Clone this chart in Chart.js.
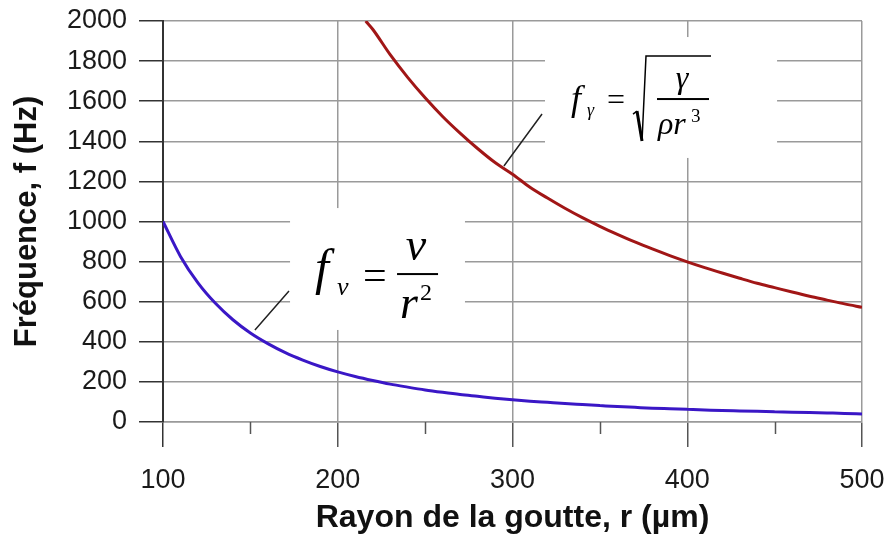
<!DOCTYPE html>
<html>
<head>
<meta charset="utf-8">
<script src="https://cdn.jsdelivr.net/npm/chart.js@4/dist/chart.umd.min.js"></script>
<style>
  html, body { margin: 0; padding: 0; background: #ffffff; }
  #wrap { width: 891px; height: 545px; }
</style>
</head>
<body>
<div id="wrap"><canvas id="c" width="891" height="545"></canvas></div>
<script>
// ---- Data ----
const radiusBlue = [100,110,120,130,140,150,160,170,180,190,200,210,220,230,240,250,260,270,280,290,300,310,320,330,340,350,360,370,380,390,400,410,420,430,440,450,460,470,480,490,500];
const freqBlue   = [1000,826,694,592,510,444,391,346,309,277,250,227,207,189,174,160,148,137,128,119,111,104,98,92,87,82,77,73,69,66,63,60,57,55,53,51,49,47,45,43,40];

const radiusRed = [216,220,230,240,250,260,270,280,290,300,310,320,330,340,350,360,370,380,390,400,410,420,430,440,450,460,470,480,490,500];
const freqRed   = [2000,1959,1832,1719,1617,1524,1441,1364,1294,1236,1171,1117,1066,1019,976,936,898,863,830,799,770,743,717,692,670,648,627,608,589,572];

const xTickValues = [100,200,300,400,500];
const yTickValues = [0,200,400,600,800,1000,1200,1400,1600,1800,2000];

const xTitle = 'Rayon de la goutte, r (µm)';
const yTitle = 'Fréquence, f (Hz)';

const toPoints = (xs, ys) => xs.map((x, i) => ({ x: x, y: ys[i] }));

// Annotation plugin: white equation boxes, leader lines, minor x ticks
const annot = {
  id: 'annot',
  afterDraw(chart) {
    const ctx = chart.ctx;
    const sx = chart.scales.x, sy = chart.scales.y;
    const px = v => sx.getPixelForValue(v);
    const py = v => sy.getPixelForValue(v);
    ctx.save();

    // minor ticks on x axis
    ctx.strokeStyle = '#555';
    ctx.lineWidth = 1.5;
    [150,250,350,450].forEach(v => {
      const x = Math.round(px(v)) + 0.5;
      ctx.beginPath();
      ctx.moveTo(x, sy.bottom);
      ctx.lineTo(x, sy.bottom + 12);
      ctx.stroke();
    });

    // leader lines
    ctx.strokeStyle = '#222';
    ctx.lineWidth = 1.5;
    ctx.beginPath();
    ctx.moveTo(px(152.6), py(459)); ctx.lineTo(px(172.1), py(653));
    ctx.moveTo(px(295.1), py(1277)); ctx.lineTo(px(316.9), py(1536));
    ctx.stroke();

    // Box 1: f_nu = nu / r^2
    let L = px(172.7), T = py(1067), R = px(272.8), B = py(459);
    ctx.fillStyle = '#ffffff';
    ctx.fillRect(L, T, R - L, B - T);
    ctx.fillStyle = '#000';
    ctx.textBaseline = 'alphabetic';
    ctx.textAlign = 'left';
    ctx.font = 'italic 50px "Liberation Serif"';
    ctx.fillText('f', L + 25, T + 76);
    ctx.font = 'italic 26px "Liberation Serif"';
    ctx.fillText('ν', L + 47, T + 87);
    ctx.font = '42px "Liberation Serif"';
    ctx.fillText('=', L + 73, T + 81);
    ctx.textAlign = 'center';
    ctx.font = 'italic 46px "Liberation Serif"';
    ctx.fillText('ν', L + 126, T + 52);
    ctx.fillRect(L + 107, T + 65, 41, 2);
    ctx.textAlign = 'left';
    ctx.fillText('r', L + 110, T + 110);
    ctx.font = '24px "Liberation Serif"';
    ctx.fillText('2', L + 130, T + 92);

    // Box 2: f_gamma = sqrt(gamma / (rho r^3))
    L = px(318.6); T = py(1920); R = px(451.4); B = py(1317);
    ctx.fillStyle = '#ffffff';
    ctx.fillRect(L, T, R - L, B - T);
    ctx.fillStyle = '#000';
    ctx.textAlign = 'left';
    ctx.font = 'italic 36px "Liberation Serif"';
    ctx.fillText('f', L + 26, T + 73);
    ctx.font = 'italic 18px "Liberation Serif"';
    ctx.fillText('γ', L + 42, T + 79);
    ctx.font = '32px "Liberation Serif"';
    ctx.fillText('=', L + 62, T + 73);
    // radical
    ctx.strokeStyle = '#000';
    ctx.lineWidth = 1.5;
    ctx.beginPath();
    ctx.moveTo(L + 88, T + 77);
    ctx.lineTo(L + 92, T + 74);
    ctx.stroke();
    ctx.lineWidth = 3;
    ctx.beginPath();
    ctx.moveTo(L + 92, T + 74);
    ctx.lineTo(L + 97, T + 104);
    ctx.stroke();
    ctx.lineWidth = 1.5;
    ctx.beginPath();
    ctx.moveTo(L + 97, T + 104);
    ctx.lineTo(L + 101, T + 19);
    ctx.lineTo(L + 166, T + 19);
    ctx.stroke();
    ctx.textAlign = 'center';
    ctx.font = 'italic 32px "Liberation Serif"';
    ctx.fillText('γ', L + 137, T + 51);
    ctx.fillRect(L + 112, T + 61, 52, 2);
    ctx.textAlign = 'left';
    ctx.fillText('ρr', L + 113, T + 97);
    ctx.font = '19px "Liberation Serif"';
    ctx.fillText('3', L + 146, T + 85);

    ctx.restore();
  }
};

new Chart(document.getElementById('c'), {
  type: 'line',
  data: {
    datasets: [
      {
        label: 'f_nu',
        data: toPoints(radiusBlue, freqBlue),
        borderColor: '#3a17c6',
        borderWidth: 3,
        pointRadius: 0,
        fill: false,
        cubicInterpolationMode: 'monotone'
      },
      {
        label: 'f_gamma',
        data: toPoints(radiusRed, freqRed),
        borderColor: '#a11616',
        borderWidth: 3,
        pointRadius: 0,
        fill: false,
        cubicInterpolationMode: 'monotone'
      }
    ]
  },
  options: {
    responsive: false,
    animation: false,
    devicePixelRatio: 1,
    layout: { padding: { top: 21, right: 29, left: 0, bottom: 0 } },
    plugins: { legend: { display: false }, tooltip: { enabled: false } },
    scales: {
      x: {
        type: 'linear',
        min: 100, max: 500,
        afterFit(scale) {
          scale.height = 123;
          scale.paddingLeft = 0; scale.paddingRight = 0;
          scale.paddingTop = 0; scale.paddingBottom = 0;
        },
        afterBuildTicks(scale) {
          scale.ticks = [100,150,200,250,300,350,400,450,500].map(v => ({ value: v }));
        },
        ticks: {
          callback: v => (xTickValues.includes(v) ? String(v) : ''),
          font: { family: '"Liberation Sans", Arial, sans-serif', size: 27 },
          color: '#1a1a1a',
          padding: 17,
          maxRotation: 0,
          autoSkip: false
        },
        grid: {
          color: ctx => (ctx.tick && ctx.tick.value % 100 === 0 ? '#9a9a9a' : 'rgba(0,0,0,0)'),
          lineWidth: 1.5,
          tickLength: 25,
          tickColor: ctx => (ctx.tick && ctx.tick.value % 100 === 0 ? (ctx.tick.value === 100 ? '#333' : '#555') : 'rgba(0,0,0,0)'),
          tickWidth: 1.5
        },
        border: { display: true, color: '#9a9a9a', width: 1.5 },
        title: {
          display: true,
          text: xTitle,
          font: { family: '"Liberation Sans", Arial, sans-serif', size: 32, weight: 'bold' },
          color: '#111',
          padding: { top: 0, bottom: 8 }
        }
      },
      y: {
        type: 'linear',
        min: 0, max: 2000,
        afterFit(scale) {
          scale.width = 163;
          scale.paddingLeft = 0; scale.paddingRight = 0;
          scale.paddingTop = 0; scale.paddingBottom = 0;
        },
        afterBuildTicks(scale) {
          scale.ticks = yTickValues.map(v => ({ value: v }));
        },
        ticks: {
          callback: v => String(v),
          font: { family: '"Liberation Sans", Arial, sans-serif', size: 27 },
          color: '#1a1a1a',
          padding: 12
        },
        grid: {
          color: '#9a9a9a',
          lineWidth: 1.5,
          tickLength: 24,
          tickColor: '#333',
          tickWidth: 1.5
        },
        border: { display: true, color: '#333', width: 2 },
        title: {
          display: true,
          text: yTitle,
          font: { family: '"Liberation Sans", Arial, sans-serif', size: 31, weight: 'bold' },
          color: '#111',
          padding: { top: 9, bottom: 0 }
        }
      }
    }
  },
  plugins: [annot]
});
</script>
</body>
</html>
